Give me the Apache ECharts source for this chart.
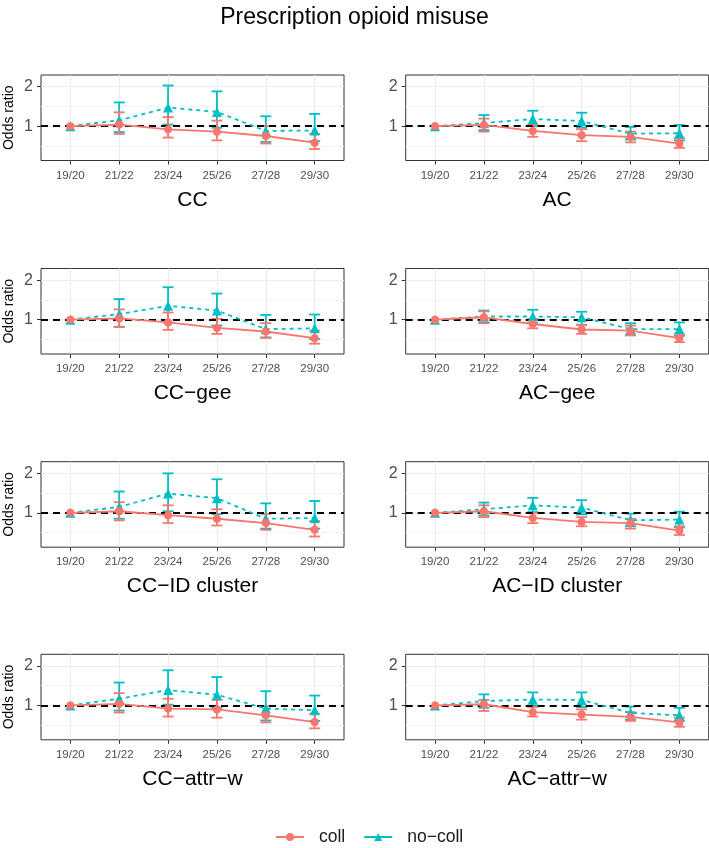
<!DOCTYPE html>
<html><head><meta charset="utf-8">
<script src="https://cdn.jsdelivr.net/npm/echarts@6/dist/echarts.min.js"></script>
<style>html,body{margin:0;padding:0;background:#fff}#c{width:709px;height:848px}</style>
</head><body><div id="c"></div><script>
const categories = ['19/20','21/22','23/24','25/26','27/28','29/30'];
const panelNames = ['CC','AC','CC\u2212gee','AC\u2212gee','CC\u2212ID cluster','AC\u2212ID cluster','CC\u2212attr\u2212w','AC\u2212attr\u2212w'];
const groupNames = ['coll','no\u2212coll'];
const yTicks = [1, 2];
const yMinor = [0.5, 1.5];

// CC
const CC_coll_or = [1, 1.04, 0.92, 0.86, 0.75, 0.58];
const CC_coll_lo = [1, 0.80, 0.71, 0.64, 0.56, 0.42];
const CC_coll_hi = [1, 1.35, 1.23, 1.14, 1.00, 0.80];
const CC_nocoll_or = [1, 1.15, 1.47, 1.36, 0.88, 0.89];
const CC_nocoll_lo = [1, 0.85, 1.04, 0.96, 0.60, 0.62];
const CC_nocoll_hi = [1, 1.60, 2.03, 1.88, 1.25, 1.31];
// AC
const AC_coll_or = [1, 1.03, 0.88, 0.77, 0.73, 0.56];
const AC_coll_lo = [1, 0.86, 0.73, 0.62, 0.59, 0.45];
const AC_coll_hi = [1, 1.19, 1.04, 0.92, 0.86, 0.69];
const AC_nocoll_or = [1, 1.08, 1.18, 1.13, 0.81, 0.82];
const AC_nocoll_lo = [1, 0.90, 1.00, 0.96, 0.66, 0.64];
const AC_nocoll_hi = [1, 1.28, 1.39, 1.34, 0.98, 1.03];
// CC-gee
const CCgee_coll_or = [1, 1.03, 0.93, 0.79, 0.70, 0.53];
const CCgee_coll_lo = [1, 0.81, 0.74, 0.64, 0.54, 0.39];
const CCgee_coll_hi = [1, 1.26, 1.18, 1.02, 0.91, 0.72];
const CCgee_nocoll_or = [1, 1.14, 1.35, 1.23, 0.76, 0.78];
const CCgee_nocoll_lo = [1, 0.82, 0.93, 0.85, 0.55, 0.51];
const CCgee_nocoll_hi = [1, 1.52, 1.82, 1.66, 1.12, 1.13];
// AC-gee
const ACgee_coll_or = [1, 1.06, 0.89, 0.75, 0.72, 0.53];
const ACgee_coll_lo = [1, 0.91, 0.78, 0.64, 0.60, 0.43];
const ACgee_coll_hi = [1, 1.21, 1.02, 0.87, 0.85, 0.64];
const ACgee_nocoll_or = [1, 1.08, 1.08, 1.06, 0.76, 0.76];
const ACgee_nocoll_lo = [1, 0.93, 0.91, 0.87, 0.61, 0.59];
const ACgee_nocoll_hi = [1, 1.23, 1.25, 1.20, 0.91, 0.93];
// CC-ID cluster
const CCid_coll_or = [1, 1.04, 0.94, 0.85, 0.74, 0.57];
const CCid_coll_lo = [1, 0.81, 0.74, 0.68, 0.57, 0.40];
const CCid_coll_hi = [1, 1.27, 1.19, 1.09, 0.97, 0.79];
const CCid_nocoll_or = [1, 1.15, 1.49, 1.37, 0.85, 0.87];
const CCid_nocoll_lo = [1, 0.85, 1.04, 0.97, 0.60, 0.60];
const CCid_nocoll_hi = [1, 1.54, 2.00, 1.85, 1.24, 1.30];
// AC-ID cluster
const ACid_coll_or = [1, 1.04, 0.87, 0.77, 0.74, 0.55];
const ACid_coll_lo = [1, 0.89, 0.74, 0.66, 0.60, 0.44];
const ACid_coll_hi = [1, 1.19, 1.00, 0.89, 0.85, 0.66];
const ACid_nocoll_or = [1, 1.09, 1.19, 1.13, 0.81, 0.83];
const ACid_nocoll_lo = [1, 0.93, 1.02, 0.96, 0.66, 0.63];
const ACid_nocoll_hi = [1, 1.26, 1.38, 1.32, 0.98, 1.03];
// CC-attr-w
const CCaw_coll_or = [1, 1.04, 0.92, 0.90, 0.75, 0.58];
const CCaw_coll_lo = [1, 0.82, 0.72, 0.69, 0.57, 0.42];
const CCaw_coll_hi = [1, 1.31, 1.17, 1.14, 0.98, 0.79];
const CCaw_nocoll_or = [1, 1.17, 1.39, 1.27, 0.92, 0.88];
const CCaw_nocoll_lo = [1, 0.87, 1.02, 0.94, 0.62, 0.61];
const CCaw_nocoll_hi = [1, 1.58, 1.89, 1.72, 1.36, 1.25];
// AC-attr-w
const ACaw_coll_or = [1, 1.03, 0.83, 0.77, 0.71, 0.57];
const ACaw_coll_lo = [1, 0.86, 0.72, 0.64, 0.61, 0.46];
const ACaw_coll_hi = [1, 1.14, 0.96, 0.90, 0.83, 0.69];
const ACaw_nocoll_or = [1, 1.11, 1.15, 1.14, 0.81, 0.75];
const ACaw_nocoll_lo = [1, 0.94, 1.00, 0.96, 0.64, 0.61];
const ACaw_nocoll_hi = [1, 1.28, 1.33, 1.33, 0.97, 0.94];

const panelData = [
  [[CC_coll_or, CC_coll_lo, CC_coll_hi], [CC_nocoll_or, CC_nocoll_lo, CC_nocoll_hi]],
  [[AC_coll_or, AC_coll_lo, AC_coll_hi], [AC_nocoll_or, AC_nocoll_lo, AC_nocoll_hi]],
  [[CCgee_coll_or, CCgee_coll_lo, CCgee_coll_hi], [CCgee_nocoll_or, CCgee_nocoll_lo, CCgee_nocoll_hi]],
  [[ACgee_coll_or, ACgee_coll_lo, ACgee_coll_hi], [ACgee_nocoll_or, ACgee_nocoll_lo, ACgee_nocoll_hi]],
  [[CCid_coll_or, CCid_coll_lo, CCid_coll_hi], [CCid_nocoll_or, CCid_nocoll_lo, CCid_nocoll_hi]],
  [[ACid_coll_or, ACid_coll_lo, ACid_coll_hi], [ACid_nocoll_or, ACid_nocoll_lo, ACid_nocoll_hi]],
  [[CCaw_coll_or, CCaw_coll_lo, CCaw_coll_hi], [CCaw_nocoll_or, CCaw_nocoll_lo, CCaw_nocoll_hi]],
  [[ACaw_coll_or, ACaw_coll_lo, ACaw_coll_hi], [ACaw_nocoll_or, ACaw_nocoll_lo, ACaw_nocoll_hi]]
];

const COLORS = ['#F8766D', '#00BFC4'];
const SYMBOLS = ['circle', 'triangle'];
const FONT = '"Liberation Sans", Arial, Helvetica, sans-serif';
const rowTops = [75, 268.5, 461.7, 654.3];
const colLefts = [41, 405.7];
const PW = 303, PH = 85.5;
const Y_MIN = 0.13, Y_MAX = 2.295;
const xIdx = categories.map((c, i) => i + 1);

const grids = [], xAxes = [], yAxes = [], series = [];

function errRender(color) {
  return function (params, api) {
    const x = api.value(0), lo = api.value(1), hi = api.value(2);
    if (lo === hi) return null;
    const a = api.coord([x, hi]), b = api.coord([x, lo]);
    const w = 5.5;
    const st = { stroke: color, lineWidth: 1.8, fill: null };
    return { type: 'group', children: [
      { type: 'line', shape: { x1: a[0], y1: a[1], x2: b[0], y2: b[1] }, style: st },
      { type: 'line', shape: { x1: a[0] - w, y1: a[1], x2: a[0] + w, y2: a[1] }, style: st },
      { type: 'line', shape: { x1: b[0] - w, y1: b[1], x2: b[0] + w, y2: b[1] }, style: st }
    ]};
  };
}

panelNames.forEach((pname, i) => {
  const col = i % 2, row = Math.floor(i / 2);
  grids.push({ left: colLefts[col], top: rowTops[row], width: PW, height: PH,
    show: true, borderColor: '#333333', borderWidth: 1, backgroundColor: '#ffffff' });
  xAxes.push({ type: 'value', gridIndex: i, min: 0.4, max: 6.6,
    axisLine: { show: false },
    axisTick: { show: true, customValues: xIdx, length: 4, lineStyle: { color: '#333333', width: 1 } },
    axisLabel: { customValues: xIdx, formatter: v => categories[Math.round(v) - 1],
      color: '#4D4D4D', fontSize: 11.5, margin: 9, fontFamily: FONT },
    splitLine: { show: true, lineStyle: { color: '#EBEBEB', width: 1 } },
    name: pname, nameLocation: 'middle', nameGap: 29,
    nameTextStyle: { fontSize: 21, color: '#000000', fontFamily: FONT } });
  const yi = yAxes.length;
  yAxes.push({ type: 'value', gridIndex: i, min: Y_MIN, max: Y_MAX,
    axisLine: { show: false },
    axisTick: { show: true, customValues: yTicks, length: 4, lineStyle: { color: '#333333', width: 1 } },
    axisLabel: { customValues: yTicks, color: '#4D4D4D', fontSize: 16, margin: 8, fontFamily: FONT },
    splitLine: { show: true, lineStyle: { color: '#EBEBEB', width: 1 } },
    name: col === 0 ? 'Odds ratio' : '', nameLocation: 'middle', nameGap: 25,
    nameTextStyle: { fontSize: 14, color: '#000000', fontFamily: FONT } });
  yAxes.push({ type: 'value', gridIndex: i, min: Y_MIN, max: Y_MAX,
    axisLine: { show: false },
    axisTick: { show: false, customValues: yMinor },
    axisLabel: { show: false },
    splitLine: { show: true, lineStyle: { color: '#F3F3F3', width: 1 } } });

  // draw no-coll (g=1) first, coll (g=0) on top
  [1, 0].forEach(g => {
    const [or, lo, hi] = panelData[i][g];
    series.push({ type: 'custom', xAxisIndex: i, yAxisIndex: yi, z: 3 + (1 - g),
      renderItem: errRender(COLORS[g]), encode: { x: 0, y: [1, 2] },
      data: xIdx.map((x, k) => [x, lo[k], hi[k]]), silent: true });
  });
  [1, 0].forEach(g => {
    const [or] = panelData[i][g];
    const s = { type: 'line', name: groupNames[g], xAxisIndex: i, yAxisIndex: yi, z: 5 + (1 - g),
      data: xIdx.map((x, k) => [x, or[k]]),
      symbol: SYMBOLS[g], symbolSize: g === 0 ? 8 : 10, showSymbol: true,
      itemStyle: { color: COLORS[g] },
      lineStyle: { color: COLORS[g], width: 1.8, type: g === 0 ? 'solid' : [4, 4] },
      silent: true };
    if (g === 1) {
      s.markLine = { silent: true, symbol: ['none', 'none'], label: { show: false },
        lineStyle: { color: '#000000', type: [7, 5], width: 2 },
        data: [{ yAxis: 1 }], animation: false };
    }
    series.push(s);
  });
});

const option = {
  animation: false,
  backgroundColor: '#ffffff',
  title: { text: 'Prescription opioid misuse', left: 'center', top: 1,
    textStyle: { fontSize: 23, fontWeight: 'normal', color: '#000000', fontFamily: FONT } },
  legend: { data: ['coll', 'no\u2212coll'], left: 270, top: 823, itemWidth: 28, itemHeight: 10, itemGap: 18,
    lineStyle: { type: 'solid' },
    textStyle: { fontSize: 17.5, color: '#1A1A1A', fontFamily: FONT, padding: [0, 0, 0, 10] } },
  grid: grids, xAxis: xAxes, yAxis: yAxes, series: series
};
const chart = echarts.init(document.getElementById('c'), null, { renderer: 'canvas' });
chart.setOption(option);
</script></body></html>
